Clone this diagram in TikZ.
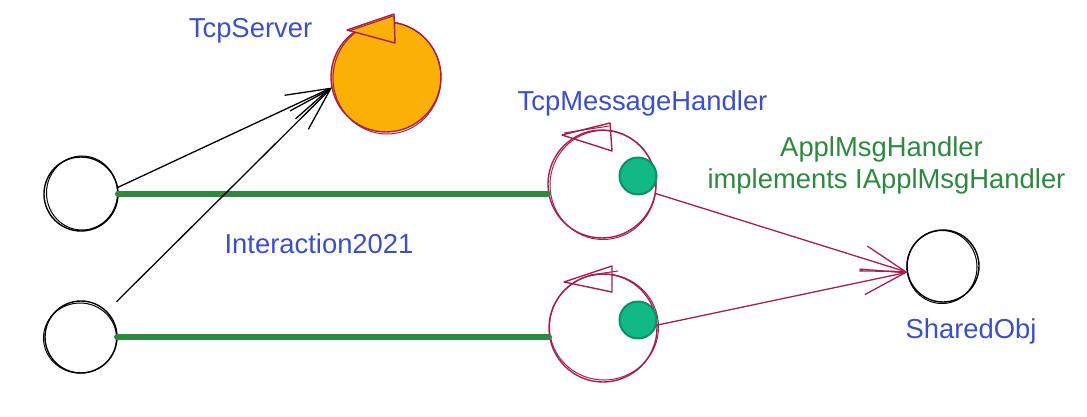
\documentclass[tikz,border=0pt]{standalone}
\usepackage{fontspec}
\setmainfont{Liberation Sans}
\usetikzlibrary{arrows.meta}
\definecolor{orng}{HTML}{FAB005}
\definecolor{crim}{HTML}{A61E4D}
\definecolor{gline}{HTML}{2B8A3E}
\definecolor{dotfill}{HTML}{12B886}
\definecolor{dotdraw}{HTML}{099268}
\definecolor{txtblue}{HTML}{3B4FC8}
\definecolor{txtgreen}{HTML}{2B8A3E}
\begin{document}
\begin{tikzpicture}[x=1pt,y=-1pt,
  circ/.style={circle, inner sep=0pt, outer sep=0pt, line width=1.4pt},
  blackcirc/.style={circ, draw=black},
  crimcirc/.style={circ, draw=crim},
  servercirc/.style={circ, draw=crim, fill=orng},
  dotcirc/.style={circ, draw=dotdraw, fill=dotfill, line width=2pt},
  sketch/.style={line width=1pt},
  lbl/.style={font=\fontsize{27.4}{32}\selectfont, anchor=base, inner sep=0pt},
  bluelbl/.style={lbl, text=txtblue},
  greenlbl/.style={lbl, text=txtgreen},
  thick green/.style={draw=gline, line width=6pt, line cap=round},
  arr/.style={line width=1.3pt, -{Straight Barb[length=44pt,width=26pt,line width=1.3pt]}},
  tri/.style={line width=1.4pt, line join=round}
]
\useasboundingbox (0,0) rectangle (1087,417);

% left black circles
\node[blackcirc, minimum size=74pt] (s1) at (81,194) {};
\draw[sketch, black] (82,193) ellipse (35.5pt and 37pt);
\node[blackcirc, minimum size=72pt] (s2) at (81,337) {};
\draw[sketch, black] (80,338) ellipse (36.5pt and 35pt);

% TcpServer
\node[servercirc, minimum size=110pt] (server) at (386,77) {};
\draw[sketch, crim] (387,78) ellipse (54pt and 56pt);
\draw[tri, crim, fill=orng] (347,30) -- (394,14) -- (395,43) -- cycle;
\draw[sketch, crim] (349,31) -- (393,16);

% TcpMessageHandler circles
\node[crimcirc, minimum size=108pt] (h1) at (602,184) {};
\draw[sketch, crim] (603,185) ellipse (53pt and 54.5pt);
\draw[tri, crim] (562,135) -- (610,123) -- (612,151) -- cycle;
\draw[sketch, crim] (564,133) -- (609,126);

\node[crimcirc, minimum size=108pt] (h2) at (603,328) {};
\draw[sketch, crim] (604,327) ellipse (54.5pt and 53pt);
\draw[tri, crim] (564,282) -- (612,266) -- (612,292) -- cycle;
\draw[sketch, crim] (590,275) -- (618,271);

% green dots
\node[dotcirc, minimum size=37pt] (d1) at (638,176) {};
\node[dotcirc, minimum size=37pt] (d2) at (638,320) {};

% SharedObj
\node[blackcirc, minimum size=72pt] (obj) at (943,266) {};
\draw[sketch, black] (942,267) ellipse (35pt and 36.5pt);

% green connections
\draw[thick green] (s1.east) -- (s1.east -| h1.west);
\draw[thick green] (s2.east) -- (s2.east -| h2.west);

% black arrows to TcpServer
\draw[arr, black] (s1.10) -- (server.191);
\draw[arr, black, shorten <=14pt] (s2) -- (server.191);

% crimson arrows to SharedObj
\draw[arr, crim] (h1.-10) -- (obj.190);
\draw[arr, crim] (h2.3) -- (obj.190);

% labels
\node[bluelbl] (lserver) at (250.5,38) {TcpServer};
\node[bluelbl] (lhandler) at (642.5,111) {TcpMessageHandler};
\node[bluelbl] (linter) at (319,253) {Interaction2021};
\node[bluelbl] (lobj) at (971,338) {SharedObj};
\node[greenlbl] (lappl) at (881.5,157) {ApplMsgHandler};
\node[greenlbl] (limpl) at (886.5,189) {implements IApplMsgHandler};
\end{tikzpicture}
\end{document}
